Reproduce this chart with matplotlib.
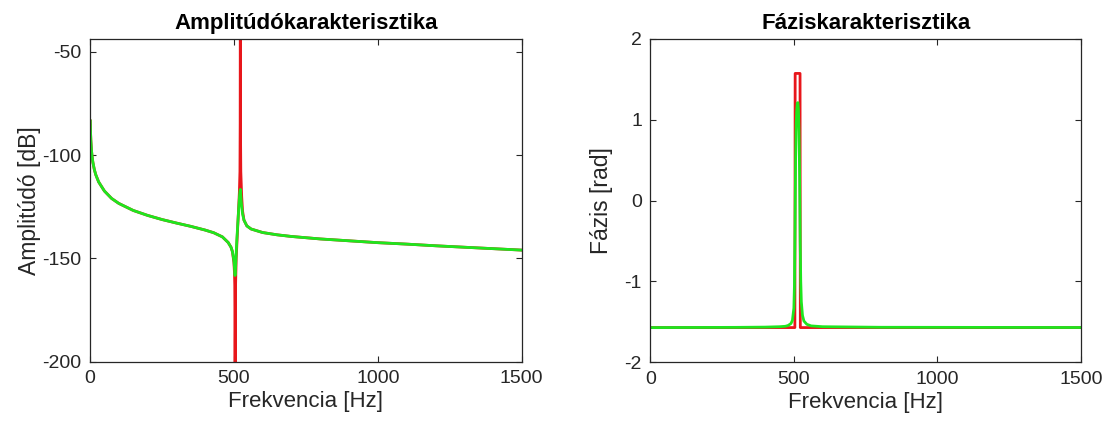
import numpy as np
import matplotlib
matplotlib.use("Agg")
import matplotlib.pyplot as plt

plt.rcParams['font.family'] = ['Liberation Sans', 'DejaVu Sans']
plt.rcParams['axes.unicode_minus'] = False

# ---------------- data ----------------
# Amplitude, damped model (green)
amp_freq_green = [1, 2, 3, 5, 7, 10, 15, 20, 30, 50, 75, 100, 150, 200, 250, 300,
                  350, 400, 430, 460, 480, 490, 495, 500, 502, 504, 506, 508, 510,
                  513, 516, 519, 521, 522.5, 524, 526, 530, 535, 545, 560, 600,
                  650, 700, 800, 900, 1000, 1100, 1200, 1300, 1400, 1500]
amp_db_green = [-83.5, -89.5, -93.0, -97.5, -100.4, -103.5, -107.0, -109.5, -113.0,
                -117.4, -121.0, -123.4, -126.8, -129.2, -131.2, -132.9, -134.5,
                -136.3, -137.6, -139.6, -142.3, -144.6, -146.8, -151.0, -154.5,
                -158.3, -154.0, -147.5, -141.5, -134.5, -127.5, -121.0, -117.5,
                -116.6, -119.5, -123.5, -128.5, -131.5, -134.3, -135.8, -137.5,
                -138.6, -139.4, -140.6, -141.5, -142.4, -143.1, -143.9, -144.6,
                -145.3, -146.0]

# Amplitude, undamped model (red) - spikes run off the axes
amp_freq_red = [1, 2, 3, 5, 7, 10, 15, 20, 30, 50, 75, 100, 150, 200, 250, 300,
                350, 400, 430, 460, 480, 490, 495, 500, 502, 503, 503.8, 504.2,
                504.6, 505.5, 508, 512, 516, 519, 521, 521.8, 522.3, 522.8, 524,
                527, 530, 535, 545, 560, 600, 650, 700, 800, 900, 1000, 1100,
                1200, 1300, 1400, 1500]
amp_db_red = [-83.5, -89.5, -93.0, -97.5, -100.4, -103.5, -107.0, -109.5, -113.0,
              -117.4, -121.0, -123.4, -126.8, -129.2, -131.2, -132.9, -134.5,
              -136.3, -137.6, -139.6, -142.3, -144.6, -146.8, -152.0, -157.0,
              -163.0, -185.0, -260.0, -190.0, -165.0, -150.0, -138.0, -127.0,
              -118.0, -108.0, -85.0, -20.0, -85.0, -108.0, -120.0, -127.0,
              -131.5, -134.3, -135.8, -137.5, -138.6, -139.4, -140.6, -141.5,
              -142.4, -143.1, -143.9, -144.6, -145.3, -146.0]

# Phase, undamped (red)
ph_freq_red = [0, 503.5, 504.5, 521.5, 522.5, 1500]
ph_rad_red = [-1.5708, -1.5708, 1.5708, 1.5708, -1.5708, -1.5708]

# Phase, damped (green)
ph_freq_green = [0, 300, 400, 450, 470, 480, 490, 495, 500, 502, 504, 505, 506,
                 508, 510, 512, 514, 516, 518, 520, 521, 522, 524, 526, 530, 535,
                 545, 560, 600, 800, 1500]
ph_rad_green = [-1.571, -1.568, -1.565, -1.56, -1.555, -1.545, -1.52, -1.48, -1.33,
                -1.05, -0.35, 0.1, 0.5, 0.95, 1.12, 1.2, 1.21, 1.12, 0.85, 0.3,
                -0.1, -0.5, -1.0, -1.25, -1.42, -1.49, -1.53, -1.55, -1.56,
                -1.567, -1.57]

x_ticks = [0, 500, 1000, 1500]
amp_yticks = [-200, -150, -100, -50]
ph_yticks = [-2, -1, 0, 1, 2]

# ---------------- figure ----------------
W, H = 1110, 428
fig = plt.figure(figsize=(W / 100, H / 100), dpi=100)

RED = '#e8161b'
GREEN = '#1ee61e'
AX_COL = '#262626'


def axes_px(x0, x1, y0, y1):
    return fig.add_axes([x0 / W, 1 - y1 / H, (x1 - x0) / W, (y1 - y0) / H])


def style(ax):
    for s in ax.spines.values():
        s.set_color(AX_COL)
        s.set_linewidth(0.9)
    ax.tick_params(direction='in', length=4, width=0.8, colors=AX_COL,
                   labelsize=14, top=True, right=True, pad=6)
    for lab in ax.get_xticklabels() + ax.get_yticklabels():
        lab.set_color(AX_COL)


ax1 = axes_px(90, 521.7, 39, 361.7)
ax1.plot(amp_freq_red, amp_db_red, color=RED, lw=2.0)
ax1.plot(amp_freq_green, amp_db_green, color=GREEN, lw=2.0)
ax1.set_xlim(0, 1500)
ax1.set_ylim(-200, -43.85)
ax1.set_xticks(x_ticks)
ax1.set_yticks(amp_yticks)
style(ax1)
ax1.set_title('Amplitúdókarakterisztika', fontsize=16, fontweight='bold',
              color='black', pad=7)
ax1.set_xlabel('Frekvencia [Hz]', fontsize=16, color=AX_COL, labelpad=3)
ax1.set_ylabel('Amplitúdó [dB]', fontsize=16.5, color=AX_COL, labelpad=1)

ax2 = axes_px(650.3, 1081, 38.7, 362.3)
ax2.plot(ph_freq_red, ph_rad_red, color=RED, lw=2.0)
ax2.plot(ph_freq_green, ph_rad_green, color=GREEN, lw=2.0)
ax2.set_xlim(0, 1500)
ax2.set_ylim(-2, 2)
ax2.set_xticks(x_ticks)
ax2.set_yticks(ph_yticks)
style(ax2)
ax2.set_title('Fáziskarakterisztika', fontsize=16, fontweight='bold',
              color='black', pad=7)
ax2.set_xlabel('Frekvencia [Hz]', fontsize=16, color=AX_COL, labelpad=3)
ax2.set_ylabel('Fázis [rad]', fontsize=16.5, color=AX_COL, labelpad=8)

fig.savefig('out.png', dpi=100)
